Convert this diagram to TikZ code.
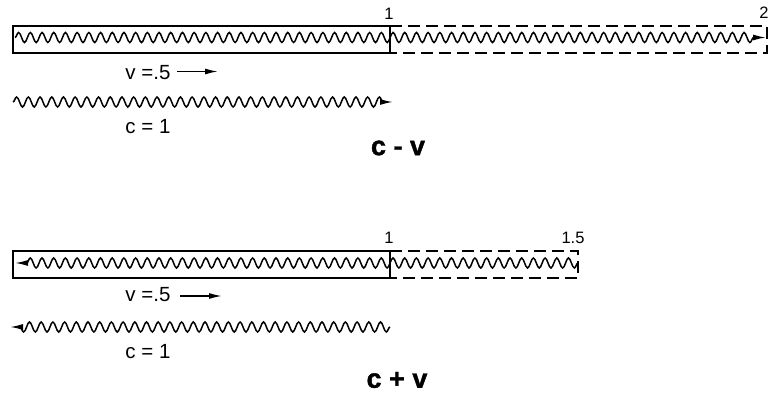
\documentclass[tikz,border=0pt]{standalone}
\usepackage{fontspec}
\setmainfont{Liberation Sans}
\newfontfamily\heavyfont{Liberation Sans Bold}[FakeBold=1.4]
\usetikzlibrary{decorations.pathmorphing,arrows.meta}
\begin{document}
\begin{tikzpicture}[x=1pt,y=-1pt,
  frame/.style={line width=2.3pt},
  dframe/.style={line width=2pt,dash pattern=on 12pt off 6pt},
  wave/.style={line width=1.5pt,decorate,decoration={snake,segment length=11.7pt,amplitude=5pt,post length=8pt}},
  wavetip/.style={-{Latex[length=13pt,width=6pt]}},
  lbl/.style={font=\fontsize{20.5}{22}\selectfont,inner sep=0pt},
  ticklbl/.style={font=\fontsize{16.5}{18}\selectfont,inner sep=0pt},
  big/.style={font=\heavyfont\fontsize{27}{30}\selectfont,inner sep=0pt},
  varrow/.style={line width=1.5pt,-{Latex[length=13pt,width=6pt]}}
]
\useasboundingbox (0,0) rectangle (769,393);

% ---------- top: c - v ----------
\coordinate (a1) at (13,26);
\coordinate (a2) at (390,53);
\coordinate (a3) at (767,26);
\coordinate (a4) at (767,53);
\draw[frame] (a1) rectangle (a2);
\draw[dframe] (390,26) -- (a3) -- (a4) -- (a2);
\coordinate (w1s) at (15,37.5);
\coordinate (w1e) at (766,37.5);
\draw[wave,wavetip] (w1s) -- (w1e);
\node[ticklbl] (n1a) at (389,13.5) {1};
\node[ticklbl] (n2a) at (764,13) {2};
\node[lbl] (va) at (148,72.5) {v =.5};
\coordinate (vas) at (177,71.5);
\coordinate (vae) at (218,71.5);
\draw[varrow] (vas) -- (vae);
\coordinate (w2s) at (13,102);
\coordinate (w2e) at (393,102);
\draw[wave,wavetip] (w2s) -- (w2e);
\node[lbl] (ca) at (148,127) {c = 1};
\node[big] (cmv) at (398,148) {c - v};

% ---------- bottom: c + v ----------
\coordinate (b1) at (13,251);
\coordinate (b2) at (390,278);
\coordinate (b3) at (578,251);
\coordinate (b4) at (578,278);
\draw[frame] (b1) rectangle (b2);
\draw[dframe] (390,251) -- (b3) -- (b4) -- (b2);
\coordinate (w3s) at (578,263);
\coordinate (w3e) at (15,263);
\draw[wave,wavetip] (w3s) -- (w3e);
\node[ticklbl] (n1b) at (389,238) {1};
\node[ticklbl] (n15b) at (573,238) {1.5};
\node[lbl] (vb) at (148,295) {v =.5};
\coordinate (vbs) at (180,296);
\coordinate (vbe) at (222,296);
\draw[varrow] (vbs) -- (vbe);
\coordinate (w4s) at (390,327);
\coordinate (w4e) at (10,327);
\draw[wave,wavetip] (w4s) -- (w4e);
\node[lbl] (cb) at (148,352) {c = 1};
\node[big] (cpv) at (397,380) {c + v};
\end{tikzpicture}
\end{document}
